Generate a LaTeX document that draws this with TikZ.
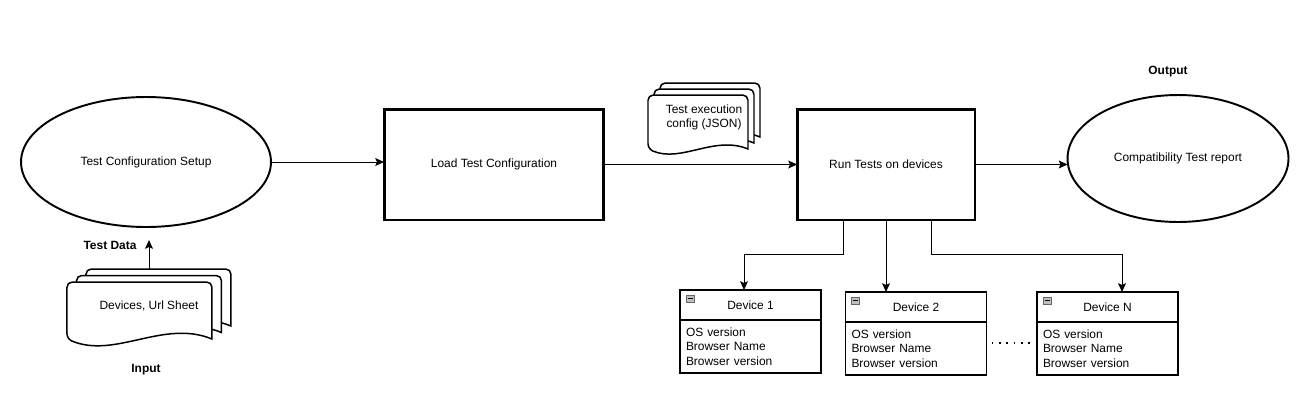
\documentclass[tikz,border=0pt]{standalone}
\usepackage{fontspec}
\setmainfont{Liberation Sans}
\usetikzlibrary{positioning, shapes.geometric, arrows.meta, backgrounds}

% three stacked paper sheets behind a node: node, dx, dy, width, height, wave
\newcommand{\paperstack}[6]{%
  \begin{scope}[on background layer]
    \foreach \k in {0,1,2}
      \draw[sheet] ([shift={(-#2*\k,#3*\k+#5)}]#1.north east) [rounded corners=3pt] -- ++(0,-#5) -- ++(-#4,0) -- ++(0,#5) [sharp corners] .. controls +(#4/3,#6) and +(-#4/3,-#6) .. ++(#4,0) -- cycle;
  \end{scope}}

\begin{document}
\begin{tikzpicture}[
        x=0.02cm, y=-0.02cm,
        node distance=0pt,
        every node/.style={font=\fontsize{6.8pt}{8.2pt}\selectfont, inner sep=0pt, outer sep=0pt},
        oval/.style={draw, ellipse, line width=1.1pt},
        stage/.style={draw, rectangle, line width=1.7pt, minimum width=4.4cm, minimum height=2.22cm},
        devhead/.style={draw, line width=1.1pt, minimum width=2.82cm, minimum height=0.6cm},
        devbody/.style={draw, line width=1.1pt, inner xsep=1.2mm, text width=2.58cm, minimum height=1.06cm, align=left},
        stack/.style={align=center},
        sheet/.style={draw, fill=white, line width=0.85pt},
        icon/.style={draw=black!60, fill=black!25, line width=0.4pt},
        link/.style={-{Stealth[length=5pt,width=4.5pt,inset=1pt]}, line width=0.5pt},
        dots/.style={line width=1.1pt, dash pattern=on 1pt off 3.2pt},
        tag/.style={font=\fontsize{6.8pt}{8.2pt}\selectfont\bfseries}
        ]
        \useasboundingbox (0,0) rectangle (1307,413);

        % Nodes
        \node[oval, minimum width=5cm, minimum height=2.6cm] (setup) at (146,162) {Test Configuration Setup};
        \node[stage] (load) at (494,164.5) {Load Test Configuration};
        \node[stage, minimum width=3.56cm] (run) at (886,164.5) {Run Tests on devices};
        \node[oval, minimum width=4.42cm, minimum height=2.54cm] (report) at (1178,158.5) {Compatibility Test report};
        \node[tag] (output) at (1168,72) {Output};

        % Input sheets
        \node[stack, minimum width=3.28cm, minimum height=1.48cm] (sheets) at (149,306) {Devices, Url Sheet};
        \paperstack{sheets}{9.5}{6.5}{145}{57}{20}
        \node[tag] (data) at (110,245) {Test Data};
        \node[tag] (input) at (146,370) {Input};
        \coordinate (datatip) at (149,240);

        % Config sheets
        \node[stack, minimum width=2.24cm, minimum height=1.38cm] (config) at (704,117.5) {Test execution\\config (JSON)};
        \paperstack{config}{6}{6}{100}{54}{14}

        % Devices
        \node[devhead] (devA) at (750.5,305) {Device 1};
        \node[devbody, below=of devA] (devAbody) {OS version\\Browser Name\\Browser version};
        \node[devhead] (devB) at (916,307) {Device 2};
        \node[devbody, below=of devB] (devBbody) {OS version\\Browser Name\\Browser version};
        \node[devhead] (devN) at (1107.5,307) {Device N};
        \node[devbody, below=of devN] (devNbody) {OS version\\Browser Name\\Browser version};
        \foreach \d in {devA, devB, devN} {
          \draw[icon] ([shift={(6,5)}]\d.north west) rectangle ++(8,7);
          \draw[line width=0.5pt] ([shift={(7.5,8.5)}]\d.north west) -- ++(5,0);
        }

        % Arrows
        \draw[link] (setup.east) -- (setup.east -| load.west);
        \draw[link] (load) -- (run);
        \draw[link] (run.east) -- (run.east -| report.west);
        \draw[link] (sheets.north) -- (datatip);
        \draw[link] ([xshift=-8.6mm]run.south) -- ++(0,34) -| ([xshift=-1.3mm]devA.north);
        \draw[link] (run.south) -- (run.south |- devB.north);
        \draw[link] ([xshift=9mm]run.south) -- ++(0,34) -| ([xshift=2.9mm]devN.north);
        \draw[dots, shorten <=1mm, shorten >=0.4mm] ([yshift=1.1mm]devBbody.east) -- ([yshift=1.1mm]devNbody.west);
    \end{tikzpicture}
\end{document}
